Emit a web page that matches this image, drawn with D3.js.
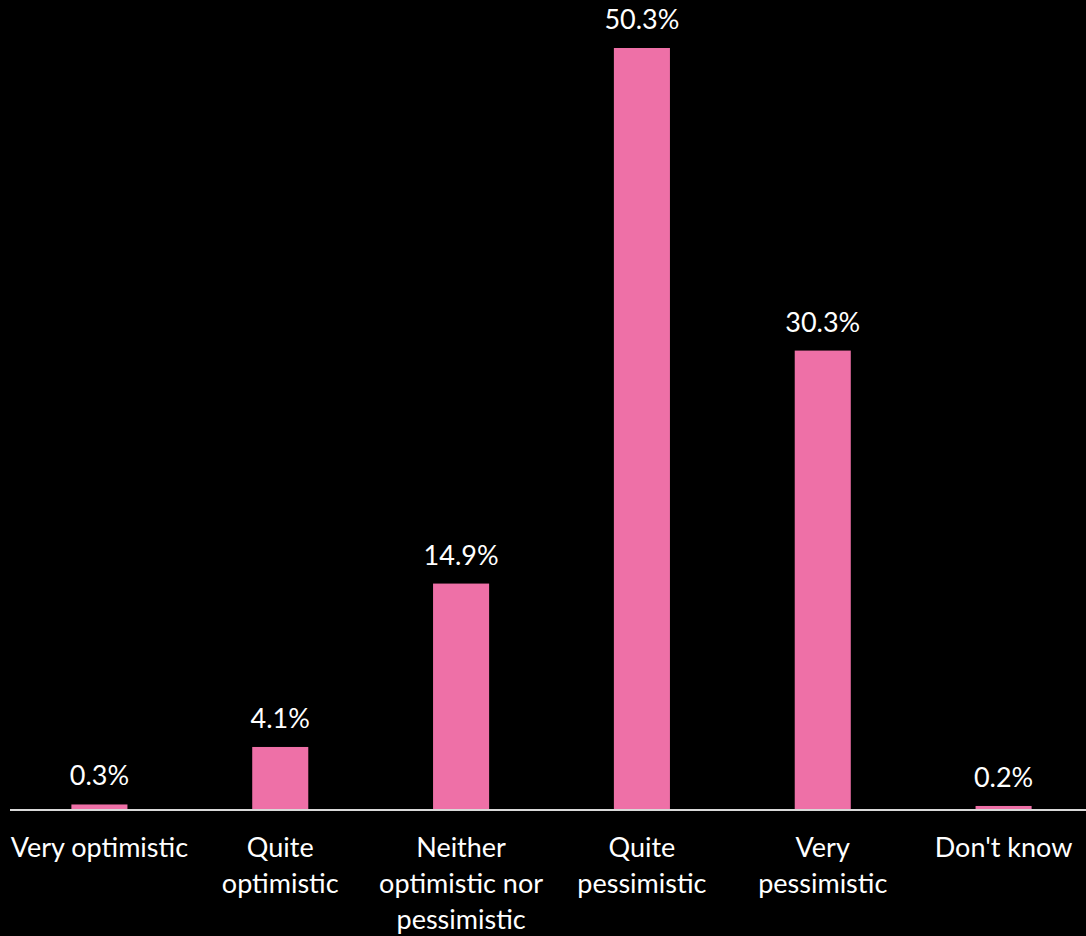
<!DOCTYPE html>
<html>
<head>
<meta charset="utf-8">
<script src="https://cdn.jsdelivr.net/npm/d3@7"></script>
<style>
  html, body { margin: 0; padding: 0; background: #000; }
  svg { display: block; }
  text { font-family: Lato, "Open Sans", sans-serif; fill: #fff; }
</style>
</head>
<body>
<svg id="chart" width="1086" height="936"></svg>
<script>
// Survey answers and their shares (%)
const categories = [
  ["Very optimistic"],
  ["Quite", "optimistic"],
  ["Neither", "optimistic nor", "pessimistic"],
  ["Quite", "pessimistic"],
  ["Very", "pessimistic"],
  ["Don't know"]
];
const values = [0.3, 4.1, 14.9, 50.3, 30.3, 0.2];
const valueLabels = ["0.3%", "4.1%", "14.9%", "50.3%", "30.3%", "0.2%"];

const W = 1086, H = 936;
const baseline = 809;
const svg = d3.select("#chart");

const keys = categories.map((c, i) => i);
const x = d3.scaleBand().domain(keys).range([9, 1094]).paddingInner(0.69).paddingOuter(0.345);
const y = d3.scaleLinear().domain([0, 50.3]).range([baseline, 48]);

// bars
svg.append("g").selectAll("rect")
  .data(values)
  .join("rect")
  .attr("x", (d, i) => x(i))
  .attr("width", x.bandwidth())
  .attr("y", d => y(d))
  .attr("height", d => baseline - y(d))
  .attr("fill", "#EE70A7");

// category axis line
svg.append("line")
  .attr("x1", 10).attr("x2", W)
  .attr("y1", baseline + 1).attr("y2", baseline + 1)
  .attr("stroke", "#D9D9D9").attr("stroke-width", 2);

// value labels above bars
svg.append("g").selectAll("text")
  .data(values)
  .join("text")
  .attr("x", (d, i) => x(i) + x.bandwidth() / 2)
  .attr("y", d => y(d) - 19)
  .attr("text-anchor", "middle")
  .attr("font-size", 27)
  .text((d, i) => valueLabels[i]);

// category labels (wrapped)
const cat = svg.append("g").selectAll("text")
  .data(categories)
  .join("text")
  .attr("text-anchor", "middle")
  .attr("font-size", 27);
cat.selectAll("tspan")
  .data((d, i) => d.map(line => ({ line, i })))
  .join("tspan")
  .attr("x", d => x(d.i) + x.bandwidth() / 2)
  .attr("y", (d, j) => 857 + j * 36)
  .text(d => d.line);
</script>
</body>
</html>
